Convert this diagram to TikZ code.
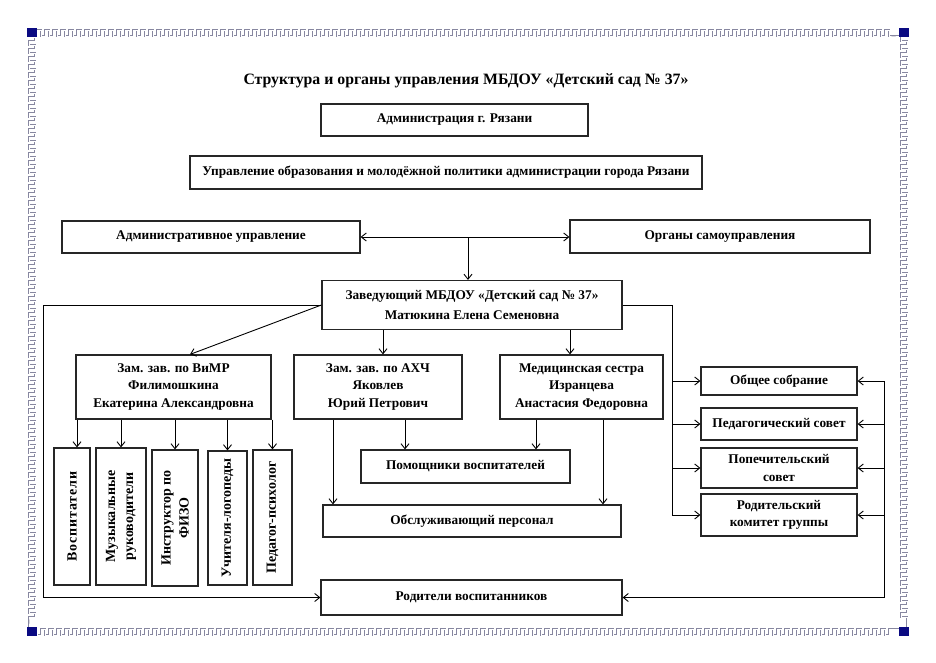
\documentclass[tikz,border=0pt]{standalone}
\usepackage{fontspec}
\setmainfont{Liberation Serif}
\usetikzlibrary{arrows.meta,calc}
\definecolor{keygrey}{RGB}{135,135,160}
\definecolor{navyc}{RGB}{10,10,130}
\begin{document}
\begin{tikzpicture}[x=1pt,y=-1pt,
  box/.style={draw=black!85, line width=1.2pt, font=\bfseries\fontsize{13.3}{17.5}\selectfont, align=center, inner sep=0pt},
  vbox/.style={draw=black!85, line width=1.2pt, inner sep=0pt},
  vtext/.style={rotate=90, font=\bfseries\fontsize{14}{18}\selectfont, align=center, inner sep=0pt},
  arr/.style={line width=0.9pt, -{Straight Barb[length=5pt,width=8pt]}},
  darr/.style={line width=0.9pt, {Straight Barb[length=5pt,width=8pt]}-{Straight Barb[length=5pt,width=8pt]}},
  greekouter/.style={draw=keygrey, line width=2.5pt, line join=miter},
  greekinner/.style={draw=white, line width=1.0pt, line join=miter},
  cornersq/.style={fill=navyc, draw=none},
]
\useasboundingbox (0,0) rectangle (936,662);
% ---- border (Greek key) ----
\gdef\keyTop{}\gdef\keyBot{}\gdef\keyLeft{}\gdef\keyRight{}
\foreach \i in {0,...,106} {\xdef\keyTop{\keyTop -- ++(0,-6) -- ++(4,0) -- ++(0,6) -- ++(4,0)}}
\foreach \i in {0,...,106} {\xdef\keyBot{\keyBot -- ++(0,6) -- ++(4,0) -- ++(0,-6) -- ++(4,0)}}
\foreach \i in {0,...,72} {\xdef\keyLeft{\keyLeft -- ++(6,0) -- ++(0,4) -- ++(-6,0) -- ++(0,4)}}
\foreach \i in {0,...,72} {\xdef\keyRight{\keyRight -- ++(-6,0) -- ++(0,4) -- ++(6,0) -- ++(0,4)}}
\foreach \st in {greekouter,greekinner} {
  \draw[\st] (37,36) \keyTop -- (899,36);
  \draw[\st] (37,629) \keyBot -- (899,629);
  \draw[\st] (29,37) \keyLeft -- (29,627);
  \draw[\st] (907,37) \keyRight -- (907,627);
}
\fill[cornersq] (27,28) rectangle (37,37);
\fill[cornersq] (899,28) rectangle (909,37);
\fill[cornersq] (27,627) rectangle (37,636);
\fill[cornersq] (899,627) rectangle (909,636);
% ---- title ----
\node[font=\bfseries\fontsize{15.8}{18}\selectfont] (title) at (466,81) {Структура и органы управления МБДОУ «Детский сад №~37»};
% ---- boxes ----
\node[box, minimum width=267pt, minimum height=32pt] (adm) at (454.5,120) {Администрация г. Рязани};
\node[box, minimum width=512pt, minimum height=33pt] (upr) at (446,172.5) {Управление образования и молодёжной политики администрации города Рязани};
\node[box, minimum width=298pt, minimum height=32pt] (admu) at (211,237) {Административное управление};
\node[box, minimum width=300pt, minimum height=33pt] (org) at (720,236.5) {Органы самоуправления};
\node[box, minimum width=300pt, minimum height=49pt, font=\bfseries\fontsize{13.3}{20}\selectfont] (zav) at (472,305) {Заведующий МБДОУ «Детский сад №~37»\\Матюкина Елена Семеновна};
\node[box, minimum width=195pt, minimum height=64pt] (vimr) at (173.5,387) {Зам. зав. по ВиМР\\Филимошкина\\Екатерина Александровна};
\node[box, minimum width=168pt, minimum height=64pt] (ahch) at (378,387) {Зам. зав. по АХЧ\\Яковлев\\Юрий Петрович};
\node[box, minimum width=163pt, minimum height=64pt] (med) at (581.5,387) {Медицинская сестра\\Изранцева\\Анастасия Федоровна};
\node[box, minimum width=209pt, minimum height=33pt] (pom) at (465.5,466.5) {Помощники воспитателей};
\node[box, minimum width=298pt, minimum height=32pt] (obsl) at (472,521) {Обслуживающий персонал};
\node[box, minimum width=301pt, minimum height=35pt] (rod) at (471.5,597.5) {Родители воспитанников};
\node[box, minimum width=156pt, minimum height=28pt] (obsh) at (779,381) {Общее собрание};
\node[box, minimum width=156pt, minimum height=32pt] (ped) at (779,424) {Педагогический совет};
\node[box, minimum width=156pt, minimum height=40pt] (pop) at (779,468) {Попечительский\\совет};
\node[box, minimum width=156pt, minimum height=42pt] (rodk) at (779,515) {Родительский\\комитет группы};
% vertical boxes
\node[vbox, minimum width=36pt, minimum height=137pt] (v1) at (72,516.5) {};
\node[vtext, font=\bfseries\fontsize{14}{18}\selectfont\addfontfeatures{LetterSpace=6}] (v1t) at (v1) {Воспитатели};
\node[vbox, minimum width=50pt, minimum height=137pt] (v2) at (121,516.5) {};
\node[vtext] (v2t) at (v2) {Музыкальные\\руководители};
\node[vbox, minimum width=46pt, minimum height=136pt] (v3) at (175,518) {};
\node[vtext] (v3t) at (v3) {Инструктор по\\ФИЗО};
\node[vbox, minimum width=39pt, minimum height=134pt] (v4) at (227.5,518) {};
\node[vtext] (v4t) at (v4) {Учителя-логопеды};
\node[vbox, minimum width=39pt, minimum height=135pt] (v5) at (272.5,517.5) {};
\node[vtext] (v5t) at (v5) {Педагог-психолог};
% ---- helper coordinates ----
\coordinate (j1) at (468,237);
\coordinate (lx) at (43,0);
\coordinate (rx) at (672,0);
\coordinate (rx2) at (884,0);
\coordinate (a1) at (383,0);
\coordinate (a2) at (570,0);
\coordinate (b1) at (333,0);
\coordinate (b2) at (405,0);
\coordinate (b3) at (536,0);
\coordinate (b4) at (603,0);
\coordinate (c1) at (77,0);
% ---- connectors ----
\draw[darr] (admu.east |- j1) -- (org.west |- j1);
\draw[arr] (j1) -- (j1 |- zav.north);
\draw[arr] (zav.west) -- ($(vimr.north)+(16.5,0)$);
\draw[arr] (zav.west) -- (zav.west -| lx) |- (rod.west);
\draw[arr] (zav.south -| a1) -- (ahch.north -| a1);
\draw[arr] (zav.south -| a2) -- (med.north -| a2);
\draw[arr] (zav.east) -- (zav.east -| rx) |- (rodk.west);
\draw[arr] (rx |- obsh.west) -- (obsh.west);
\draw[arr] (rx |- ped.west) -- (ped.west);
\draw[arr] (rx |- pop.west) -- (pop.west);
\draw[arr] (rx2 |- obsh.east) -- (obsh.east);
\draw[arr] (rx2 |- obsh.east) |- (rod.east);
\draw[arr] (rx2 |- ped.east) -- (ped.east);
\draw[arr] (rx2 |- pop.east) -- (pop.east);
\draw[arr] (rx2 |- rodk.east) -- (rodk.east);
\draw[arr] (ahch.south -| b1) -- (obsl.north -| b1);
\draw[arr] (ahch.south -| b2) -- (pom.north -| b2);
\draw[arr] (med.south -| b3) -- (pom.north -| b3);
\draw[arr] (med.south -| b4) -- (obsl.north -| b4);
\draw[arr] (vimr.south -| c1) -- (v1.north -| c1);
\draw[arr] (vimr.south -| v2.north) -- (v2.north);
\draw[arr] (vimr.south -| v3.north) -- (v3.north);
\draw[arr] (vimr.south -| v4.north) -- (v4.north);
\draw[arr] (vimr.south -| v5.north) -- (v5.north);
\end{tikzpicture}
\end{document}
